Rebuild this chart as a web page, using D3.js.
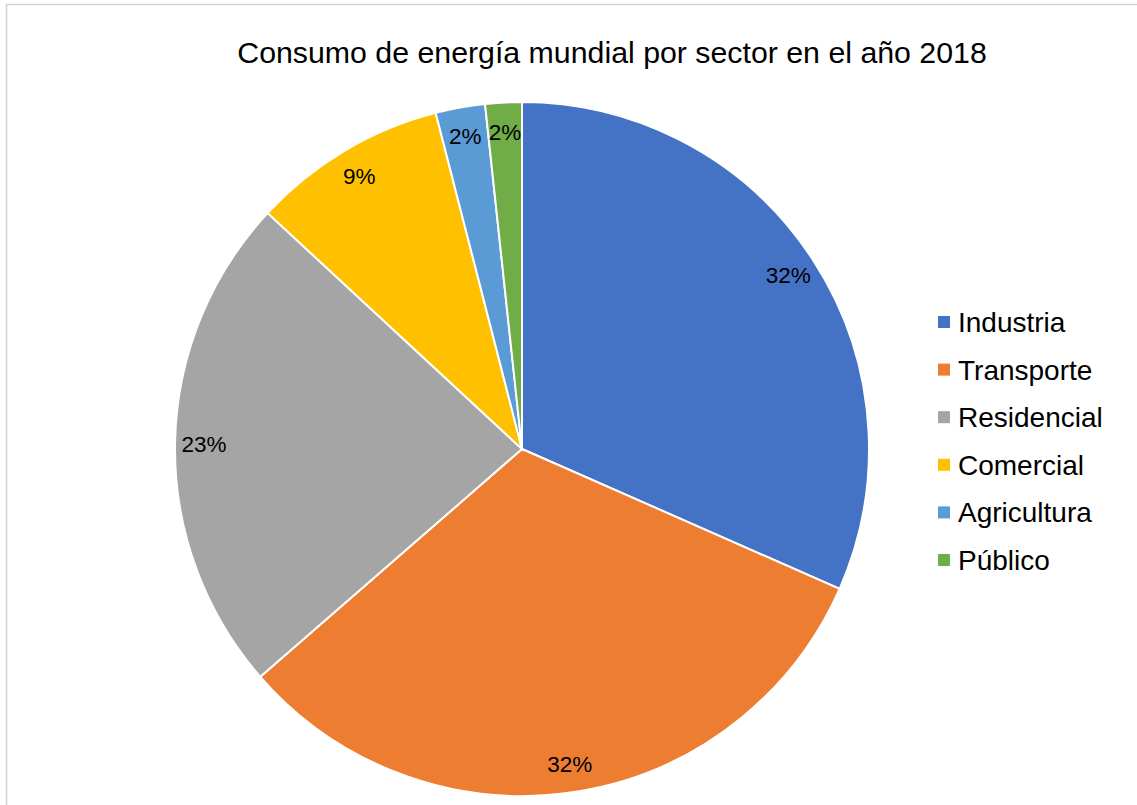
<!DOCTYPE html>
<html lang="es">
  <head>
    <meta charset="utf-8" />
    <title>Consumo de energía mundial por sector</title>
    <script src="https://cdn.jsdelivr.net/npm/d3@7"></script>
    <style>
      body { margin: 0; background: #fff; }
      text { font-family: "Liberation Sans", Arial, sans-serif; fill: #000; }
    </style>
  </head>
  <body>
    <script>
      // data
      var sectors = ["Industria", "Transporte", "Residencial", "Comercial", "Agricultura", "Público"];
      var shares = [31.6, 32.0, 23.3, 9.1, 2.3, 1.7];
      var colors = ["#4472C4", "#ED7D31", "#A5A5A5", "#FFC000", "#5B9BD5", "#70AD47"];

      var w = 1137, h = 805;
      var cx = 522, cy = 449, r = 347;

      var svg = d3.select("body").append("svg")
        .attr("width", w)
        .attr("height", h);

      // chart border
      svg.append("rect")
        .attr("x", 6.5).attr("y", 4.5)
        .attr("width", w + 20).attr("height", h + 20)
        .attr("fill", "none")
        .attr("stroke", "#d0d0d0")
        .attr("stroke-width", 1.5);

      svg.append("text")
        .attr("x", 612).attr("y", 63)
        .attr("text-anchor", "middle")
        .attr("font-size", "30.3px")
        .text("Consumo de energía mundial por sector en el año 2018");

      var color = d3.scaleOrdinal().domain(sectors).range(colors);

      var pie = d3.pie().sort(null).value(function (d, i) { return shares[i]; });
      var arcs = pie(sectors);

      var arc = d3.arc().innerRadius(0).outerRadius(r);
      var labelArc = d3.arc().innerRadius(318).outerRadius(318);

      var g = svg.append("g").attr("transform", "translate(" + cx + "," + cy + ")");

      g.selectAll("path")
        .data(arcs)
        .enter()
        .append("path")
        .attr("d", arc)
        .attr("fill", function (d) { return color(d.data); })
        .attr("stroke", "#fff")
        .attr("stroke-width", 2);

      var total = d3.sum(shares);
      g.selectAll("text")
        .data(arcs)
        .enter()
        .append("text")
        .attr("transform", function (d) { return "translate(" + labelArc.centroid(d) + ")"; })
        .attr("text-anchor", "middle")
        .attr("dy", "0.36em")
        .attr("font-size", "22.5px")
        .text(function (d) { return Math.round(d.value / total * 100) + "%"; });

      // legend
      var legend = svg.append("g").attr("transform", "translate(938,322)");
      var rows = legend.selectAll("g")
        .data(sectors)
        .enter()
        .append("g")
        .attr("transform", function (d, i) { return "translate(0," + i * 47.6 + ")"; });

      rows.append("rect")
        .attr("x", 0).attr("y", -6)
        .attr("width", 12).attr("height", 12)
        .attr("fill", function (d) { return color(d); });

      rows.append("text")
        .attr("x", 20)
        .attr("dy", "0.36em")
        .attr("font-size", "28px")
        .text(function (d) { return d; });
    </script>
  </body>
</html>
